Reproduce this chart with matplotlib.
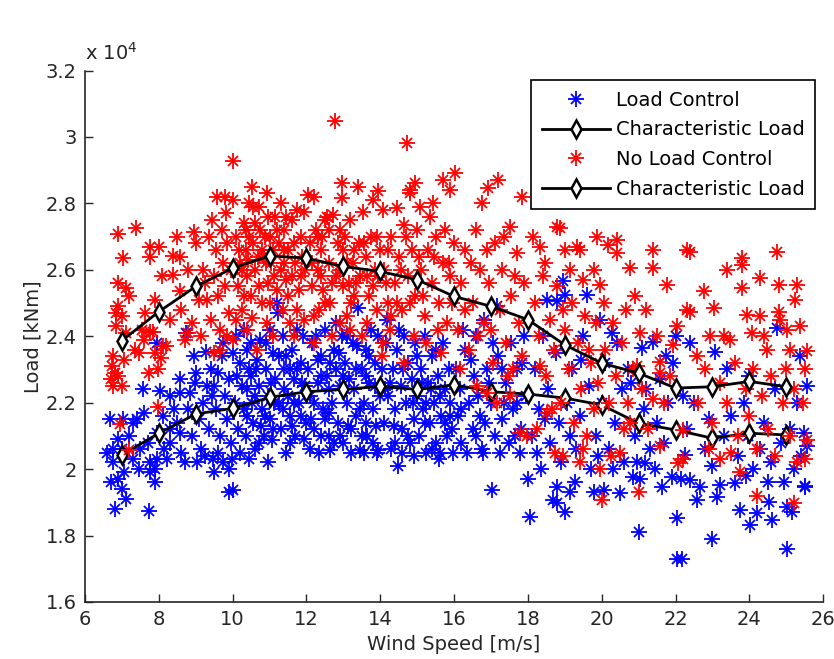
import numpy as np
import matplotlib
matplotlib.use("Agg")
import matplotlib.pyplot as plt
from matplotlib.legend_handler import HandlerTuple

# wind speed [m/s], load [x 1e4 kNm]
lc_points = [
    # 6.5 - 8
    (6.68, 2.15), (7.04, 2.15), (7.4, 2.15), (7.6, 2.17), (6.6, 2.05), (6.77, 2.06), (7.0, 2.06),
    (7.31, 2.03), (6.7, 1.96), (6.9, 1.97), (7.0, 1.94), (6.81, 1.88), (7.1, 1.91), (7.72, 1.875),
    (7.76, 2.02), (7.94, 2.03), (7.76, 1.99), (7.9, 2.0), (7.9, 1.96), (7.94, 2.38), (7.58, 2.24),
    (7.2, 2.1), (7.5, 2.06), (6.9, 2.09), (7.3, 2.14), (6.75, 2.02), (7.05, 1.99), (7.95, 2.11),
    (7.7, 2.08), (7.45, 2.0),
    # 8 - 10
    (8.03, 2.234), (8.21, 2.03), (8.3, 2.22), (8.3, 2.08), (8.57, 2.11), (8.3, 2.12), (8.57, 2.23),
    (8.57, 2.27), (8.71, 2.02), (8.74, 2.41), (8.94, 2.34), (8.97, 2.26), (9.0, 2.29), (9.03, 2.02),
    (9.25, 2.04), (9.27, 2.354), (9.4, 2.30), (9.47, 2.03), (9.6, 2.29), (9.75, 2.02), (9.98, 2.03),
    (10.0, 2.35), (10.0, 1.937), (9.9, 1.93), (9.5, 1.99), (9.9, 2.0), (8.1, 2.16), (8.5, 2.14),
    (8.8, 2.18), (9.1, 2.15), (9.2, 2.2), (9.35, 2.12), (9.5, 2.25), (9.55, 2.18), (9.65, 2.1),
    (9.7, 2.34), (9.8, 2.22), (9.85, 2.15), (9.9, 2.27), (9.95, 2.08), (9.6, 2.05), (9.45, 2.22),
    (8.9, 2.1), (8.6, 2.05), (8.4, 2.18), (9.75, 2.38), (9.3, 2.25), (9.15, 2.06), (8.15, 2.06),
    (8.85, 2.23),
    # 10 - 12
    (10.1, 2.4), (10.2, 2.32), (10.25, 2.25), (10.3, 2.18), (10.35, 2.1), (10.4, 2.36), (10.43, 2.03),
    (10.5, 2.28), (10.52, 2.2), (10.55, 2.14), (10.6, 2.06), (10.65, 2.33), (10.7, 2.25), (10.75, 2.39),
    (10.8, 2.18), (10.85, 2.1), (10.9, 2.3), (10.95, 2.22), (10.97, 2.02), (11.0, 2.15), (11.06, 2.088),
    (11.1, 2.35), (11.15, 2.27), (11.2, 2.5), (11.24, 2.47), (11.25, 2.2), (11.3, 2.12), (11.35, 2.4),
    (11.4, 2.3), (11.45, 2.05), (11.5, 2.22), (11.55, 2.16), (11.6, 2.36), (11.65, 2.27), (11.7, 2.1),
    (11.75, 2.42), (11.8, 2.2), (11.85, 2.32), (11.92, 2.09), (11.95, 2.25), (12.0, 2.14), (10.15, 2.12),
    (10.3, 2.42), (10.45, 2.3), (10.7, 2.08), (10.9, 2.38), (11.05, 2.26), (11.35, 2.18), (11.55, 2.08),
    (11.75, 2.3), (11.9, 2.4), (10.2, 2.05), (10.6, 2.22), (11.1, 2.12), (11.45, 2.34), (11.85, 2.16),
    (10.05, 2.2), (10.4, 2.16), (11.0, 2.42), (11.65, 2.2),
    (10.12, 2.28), (10.38, 2.24), (10.62, 2.3), (10.88, 2.16), (11.12, 2.2), (11.38, 2.24),
    (11.62, 2.13), (11.88, 2.26), (10.5, 2.38), (11.25, 2.34), (10.78, 2.13), (11.55, 2.3),
    # 12 - 14
    (12.05, 2.3), (12.1, 2.22), (12.15, 2.38), (12.2, 2.12), (12.3, 2.26), (12.35, 2.05), (12.4, 2.34),
    (12.45, 2.18), (12.5, 2.42), (12.55, 2.28), (12.6, 2.1), (12.64, 2.058), (12.7, 2.2), (12.75, 2.36),
    (12.8, 2.3), (12.85, 2.14), (12.9, 2.25), (12.95, 2.4), (13.0, 2.08), (13.05, 2.32), (13.1, 2.2),
    (13.15, 2.27), (13.2, 2.12), (13.25, 2.38), (13.3, 2.24), (13.35, 2.16), (13.4, 2.485), (13.45, 2.058),
    (13.5, 2.3), (13.55, 2.2), (13.6, 2.36), (13.65, 2.1), (13.7, 2.26), (13.75, 2.42), (13.8, 2.18),
    (13.85, 2.32), (13.9, 2.05), (13.95, 2.058), (14.0, 2.22), (12.25, 2.4), (12.5, 2.15), (12.65, 2.32),
    (12.9, 2.1), (13.1, 2.4), (13.35, 2.3), (13.6, 2.14), (13.85, 2.25), (12.2, 2.2), (12.4, 2.1),
    (12.8, 2.44), (13.2, 2.05), (13.45, 2.18), (13.7, 2.34), (13.95, 2.4), (12.1, 2.06), (12.6, 2.24),
    (13.0, 2.28), (13.5, 2.1), (13.8, 2.08),
    (12.12, 2.15), (12.38, 2.28), (12.62, 2.17), (12.88, 2.35), (13.12, 2.13), (13.38, 2.37),
    (13.62, 2.28), (13.88, 2.13), (12.3, 2.33), (13.05, 2.24), (13.55, 2.05), (12.75, 2.08),
    # 14 - 16
    (14.05, 2.3), (14.1, 2.14), (14.15, 2.38), (14.17, 2.45), (14.2, 2.22), (14.3, 2.06), (14.35, 2.3),
    (14.4, 2.18), (14.45, 2.36), (14.49, 2.01), (14.55, 2.25), (14.6, 2.12), (14.65, 2.4), (14.7, 2.2),
    (14.75, 2.32), (14.8, 2.08), (14.85, 2.27), (14.9, 2.15), (14.95, 2.38), (15.0, 2.22), (15.05, 2.1),
    (15.1, 2.3), (15.15, 2.18), (15.2, 2.4), (15.25, 2.05), (15.3, 2.26), (15.35, 2.14), (15.4, 2.34),
    (15.45, 2.2), (15.5, 2.08), (15.55, 2.28), (15.6, 2.03), (15.62, 2.05), (15.65, 2.16), (15.7, 2.38),
    (15.75, 2.24), (15.8, 2.1), (15.85, 2.3), (15.9, 2.2), (15.95, 2.12), (15.98, 2.05), (14.25, 2.26),
    (14.5, 2.42), (14.75, 2.1), (15.0, 2.34), (15.25, 2.2), (15.5, 2.36), (15.75, 2.14), (14.4, 2.08),
    (14.9, 2.04), (15.4, 2.06),
    (14.12, 2.24), (14.38, 2.13), (14.62, 2.3), (14.88, 2.2), (15.12, 2.26), (15.38, 2.24),
    (15.62, 2.22), (15.88, 2.16), (14.6, 2.05), (15.2, 2.14),
    # 16 - 18
    (16.05, 2.3), (16.1, 2.16), (16.15, 2.24), (16.2, 2.08), (16.3, 2.36), (16.34, 2.05), (16.4, 2.2),
    (16.5, 2.12), (16.55, 2.28), (16.6, 2.4), (16.7, 2.16), (16.75, 2.06), (16.79, 2.05), (16.8, 2.45),
    (16.9, 2.3), (17.0, 2.2), (17.02, 1.937), (17.1, 2.1), (17.16, 2.49), (17.2, 2.34), (17.25, 2.05),
    (17.3, 2.15), (17.4, 2.26), (17.5, 2.08), (17.55, 2.38), (17.6, 2.18), (17.7, 2.3), (17.79, 2.05),
    (17.8, 2.12), (17.9, 2.4), (17.95, 2.22), (18.01, 1.97), (16.25, 2.42), (16.45, 2.33), (16.65, 2.22),
    (16.85, 2.14), (17.05, 2.38), (17.35, 2.2), (17.65, 2.1), (17.85, 2.32),
    (16.2, 2.18), (16.6, 2.1), (16.95, 2.26), (17.3, 2.3), (17.7, 2.2),
    # 18 - 20
    (18.06, 1.857), (18.1, 2.1), (18.2, 2.3), (18.24, 2.05), (18.3, 2.18), (18.4, 2.4), (18.51, 2.51),
    (18.55, 2.24), (18.6, 2.08), (18.69, 1.907), (18.75, 2.35), (18.78, 2.505), (18.78, 1.947),
    (18.78, 1.897), (18.85, 2.14), (18.96, 2.565), (19.0, 2.525), (19.0, 1.87), (19.05, 2.2),
    (19.14, 1.932), (19.2, 2.3), (19.28, 1.962), (19.3, 2.06), (19.4, 2.16), (19.5, 2.4), (19.6, 2.525),
    (19.65, 2.25), (19.7, 2.0), (19.78, 1.932), (19.85, 2.1), (19.96, 2.45), (20.0, 2.2), (18.35, 2.0),
    (18.9, 2.02), (19.45, 2.33), (19.9, 2.04), (18.45, 2.15), (19.15, 2.1),
    # 20 - 22
    (20.05, 1.937), (20.1, 2.32), (20.2, 2.06), (20.27, 2.41), (20.35, 2.14), (20.41, 2.38), (20.5, 1.927),
    (20.55, 2.24), (20.6, 2.02), (20.7, 2.3), (20.8, 2.26), (20.86, 1.977), (20.9, 2.1), (21.0, 1.81),
    (21.04, 1.97), (21.09, 2.364), (21.15, 2.18), (21.18, 2.018), (21.2, 2.24), (21.3, 2.06), (21.4, 2.384),
    (21.5, 2.14), (21.58, 2.27), (21.63, 1.947), (21.7, 2.08), (21.8, 2.2), (21.9, 1.977), (21.94, 2.32),
    (22.0, 2.4), (22.03, 1.852), (22.03, 1.73), (20.3, 2.0), (20.95, 2.02), (21.45, 2.0), (21.75, 2.34),
    # 22 - 26
    (22.14, 1.97), (22.17, 1.73), (22.2, 2.22), (22.26, 2.043), (22.3, 2.12), (22.4, 2.38), (22.4, 1.967),
    (22.5, 2.2), (22.58, 1.907), (22.67, 1.947), (22.8, 2.06), (22.98, 1.79), (23.0, 2.01), (23.07, 2.354),
    (23.12, 1.917), (23.21, 1.952), (23.3, 2.1), (23.5, 2.16), (23.62, 1.957), (23.7, 2.04), (23.75, 1.877),
    (23.85, 2.2), (23.95, 2.1), (24.02, 1.832), (24.1, 2.0), (24.2, 1.867), (24.3, 2.06), (24.4, 2.14),
    (24.52, 1.902), (24.6, 2.02), (24.61, 1.847), (24.7, 2.24), (24.75, 2.424), (24.85, 2.08), (24.95, 1.96),
    (25.02, 1.887), (25.02, 1.76), (25.1, 2.12), (25.15, 1.872), (25.2, 2.0), (25.3, 2.2), (25.38, 2.34),
    (25.47, 2.11), (25.5, 1.95), (25.51, 1.947), (25.56, 2.07), (25.55, 2.25), (23.4, 2.3), (24.0, 2.28),
    (24.5, 1.96), (23.9, 1.98), (22.9, 2.15), (25.4, 2.04),
]

nlc_points = [
    # 6.5 - 8
    (6.9, 2.707), (7.38, 2.727), (7.02, 2.635), (6.9, 2.56), (7.1, 2.545), (6.9, 2.49), (6.85, 2.47),
    (7.0, 2.46), (7.63, 2.47), (7.9, 2.51), (7.76, 2.67), (7.99, 2.67), (7.75, 2.64), (7.76, 2.414),
    (7.85, 2.414), (7.6, 2.39), (7.36, 2.36), (6.76, 2.34), (6.73, 2.31), (6.81, 2.29), (6.7, 2.27),
    (6.76, 2.25), (7.0, 2.25), (7.73, 2.29), (7.97, 2.30), (7.98, 2.188), (6.95, 2.136), (7.2, 2.058),
    (7.1, 2.41), (6.85, 2.43), (7.05, 2.33), (6.9, 2.28), (7.55, 2.42), (7.45, 2.35), (7.2, 2.52),
    (7.9, 2.35),
    # 8 - 10
    (8.08, 2.58), (8.39, 2.585), (8.39, 2.642), (8.57, 2.64), (8.94, 2.715), (9.0, 2.68), (8.1, 2.37),
    (8.2, 2.37), (8.06, 2.334), (8.71, 2.39), (8.79, 2.41), (8.57, 2.535), (9.1, 2.51), (9.3, 2.51),
    (9.66, 2.36), (10.0, 2.39), (9.57, 2.82), (9.79, 2.82), (10.0, 2.81), (9.82, 2.77), (10.0, 2.929),
    (8.3, 2.45), (8.6, 2.48), (8.8, 2.6), (9.2, 2.6), (9.35, 2.7), (9.4, 2.45), (9.5, 2.58), (9.55, 2.66),
    (9.6, 2.52), (9.7, 2.72), (9.75, 2.62), (9.8, 2.55), (9.85, 2.68), (9.9, 2.47), (9.95, 2.6),
    (9.45, 2.75), (9.65, 2.42), (8.9, 2.44), (9.15, 2.4), (8.5, 2.7), (9.25, 2.56), (9.85, 2.4), (9.5, 2.35),
    # 10 - 12
    (10.1, 2.7), (10.15, 2.55), (10.2, 2.62), (10.25, 2.48), (10.3, 2.74), (10.35, 2.66), (10.4, 2.58),
    (10.45, 2.8), (10.5, 2.52), (10.52, 2.849), (10.52, 2.455), (10.55, 2.68), (10.56, 2.79), (10.6, 2.6),
    (10.65, 2.36), (10.7, 2.79), (10.75, 2.72), (10.8, 2.5), (10.85, 2.64), (10.92, 2.83), (10.92, 2.44),
    (10.95, 2.56), (11.0, 2.7), (11.05, 2.62), (11.1, 2.4), (11.15, 2.76), (11.2, 2.54), (11.25, 2.68),
    (11.3, 2.6), (11.35, 2.48), (11.4, 2.72), (11.45, 2.57), (11.5, 2.66), (11.55, 2.44), (11.65, 2.40),
    (11.6, 2.75), (11.7, 2.62), (11.74, 2.78), (11.8, 2.54), (11.85, 2.7), (11.92, 2.775), (11.92, 2.45),
    (11.95, 2.6), (10.1, 2.45), (10.3, 2.52), (10.6, 2.74), (10.8, 2.66), (11.0, 2.5), (11.3, 2.8),
    (11.5, 2.52), (11.75, 2.48), (10.25, 2.6), (10.45, 2.7), (10.7, 2.55), (10.9, 2.62), (11.1, 2.66),
    (11.4, 2.62), (11.65, 2.68), (11.85, 2.58), (10.4, 2.42), (10.05, 2.6),
    (10.18, 2.66), (10.42, 2.63), (10.68, 2.64), (10.88, 2.7), (11.12, 2.58), (11.38, 2.66),
    (11.62, 2.58), (11.88, 2.64), (10.35, 2.72), (11.2, 2.72), (10.95, 2.76), (11.45, 2.76),
    # 12 - 14
    (12.05, 2.826), (12.19, 2.82), (12.19, 2.38), (12.1, 2.68), (12.15, 2.55), (12.25, 2.72), (12.3, 2.6),
    (12.35, 2.48), (12.4, 2.66), (12.45, 2.54), (12.5, 2.75), (12.55, 2.76), (12.6, 2.62), (12.65, 2.5),
    (12.73, 2.766), (12.78, 3.047), (12.8, 2.58), (12.85, 2.68), (12.91, 2.44), (12.96, 2.86),
    (12.96, 2.816), (13.0, 2.55), (13.05, 2.7), (13.1, 2.62), (13.18, 2.75), (13.18, 2.42), (13.2, 2.5),
    (13.3, 2.66), (13.4, 2.85), (13.45, 2.58), (13.54, 2.775), (13.6, 2.64), (13.63, 2.44), (13.7, 2.52),
    (13.75, 2.7), (13.81, 2.81), (13.85, 2.6), (13.95, 2.836), (13.9, 2.48), (14.0, 2.66), (12.2, 2.46),
    (12.4, 2.58), (12.7, 2.4), (12.9, 2.6), (13.1, 2.46), (13.35, 2.56), (13.55, 2.68), (13.8, 2.55),
    (12.3, 2.7), (12.6, 2.72), (13.0, 2.66), (13.25, 2.62), (13.5, 2.4), (13.95, 2.58),
    (12.15, 2.62), (12.42, 2.7), (12.68, 2.56), (12.92, 2.72), (13.15, 2.56), (13.42, 2.68),
    (13.65, 2.58), (13.9, 2.7), (12.5, 2.5), (13.3, 2.52),
    # 14 - 16
    (14.04, 2.34), (14.08, 2.78), (14.08, 2.38), (14.1, 2.6), (14.2, 2.5), (14.27, 2.42), (14.3, 2.7),
    (14.4, 2.56), (14.45, 2.785), (14.5, 2.64), (14.6, 2.48), (14.63, 2.735), (14.63, 2.32), (14.72, 2.983),
    (14.8, 2.84), (14.81, 2.83), (14.75, 2.58), (14.85, 2.66), (14.94, 2.86), (14.95, 2.52), (15.0, 2.72),
    (15.08, 2.79), (15.1, 2.6), (15.2, 2.46), (15.3, 2.66), (15.4, 2.56), (15.44, 2.80), (15.5, 2.7),
    (15.6, 2.5), (15.71, 2.87), (15.7, 2.62), (15.8, 2.44), (15.89, 2.84), (15.9, 2.58), (16.0, 2.68),
    (14.3, 2.46), (14.55, 2.6), (14.9, 2.4), (15.15, 2.52), (15.35, 2.76), (15.55, 2.42), (15.75, 2.72),
    (15.95, 2.5), (14.2, 2.66), (14.7, 2.7), (15.25, 2.38), (15.65, 2.35),
    (14.15, 2.56), (14.45, 2.5), (14.8, 2.5), (15.05, 2.64), (15.45, 2.64), (15.85, 2.62),
    # 16 - 18
    (16.03, 2.89), (16.1, 2.42), (16.2, 2.56), (16.3, 2.66), (16.4, 2.36), (16.5, 2.5), (16.61, 2.25),
    (16.6, 2.72), (16.7, 2.6), (16.75, 2.80), (16.8, 2.44), (16.89, 2.23), (16.93, 2.846), (16.95, 2.56),
    (17.05, 2.32), (17.1, 2.68), (17.2, 2.87), (17.25, 2.48), (17.3, 2.6), (17.4, 2.38), (17.52, 2.73),
    (17.52, 2.22), (17.55, 2.52), (17.6, 2.3), (17.7, 2.65), (17.75, 2.44), (17.79, 2.11), (17.83, 2.82),
    (17.9, 2.56), (17.97, 2.10), (16.15, 2.3), (16.45, 2.62), (16.65, 2.4), (17.0, 2.42), (17.35, 2.7),
    (17.65, 2.58), (17.85, 2.34), (16.3, 2.48), (16.9, 2.66), (17.15, 2.2), (17.45, 2.28),
    # 18 - 20
    (18.15, 2.70), (18.33, 2.67), (18.33, 2.31), (18.51, 2.17), (18.74, 2.05), (18.78, 2.73), (18.87, 2.725),
    (18.96, 2.04), (19.0, 2.66), (19.32, 2.67), (19.41, 2.66), (19.5, 2.57), (19.5, 2.06), (19.78, 2.60),
    (19.87, 2.70), (19.96, 2.555), (19.96, 2.0), (20.0, 1.907), (18.2, 2.5), (18.3, 2.4), (18.4, 2.58),
    (18.5, 2.28), (18.6, 2.45), (18.7, 2.36), (18.8, 2.55), (18.9, 2.2), (19.0, 2.42), (19.1, 2.3),
    (19.2, 2.5), (19.25, 2.14), (19.35, 2.38), (19.45, 2.24), (19.55, 2.46), (19.6, 2.1), (19.7, 2.32),
    (19.8, 2.18), (19.85, 2.44), (19.9, 2.26), (18.45, 2.62), (18.65, 2.18), (19.15, 2.6), (19.65, 2.36),
    (18.95, 2.48), (19.4, 2.02), (18.25, 2.12),
    # 20 - 22
    (20.05, 2.50), (20.18, 2.675), (20.41, 2.69), (20.41, 2.65), (20.5, 2.05), (20.7, 2.20), (20.77, 2.605),
    (20.77, 2.14), (20.95, 2.31), (21.04, 2.41), (21.0, 1.93), (21.1, 2.24), (21.4, 2.66), (21.4, 2.605),
    (21.4, 2.21), (21.58, 2.324), (21.58, 2.29), (21.58, 2.07), (21.76, 2.555), (21.94, 2.375),
    (22.03, 2.43), (22.08, 2.018), (20.1, 2.36), (20.2, 2.2), (20.3, 2.44), (20.4, 2.28), (20.55, 2.38),
    (20.6, 2.12), (20.65, 2.48), (20.85, 2.3), (21.2, 2.48), (21.25, 2.12), (21.5, 2.4), (21.7, 2.2),
    (21.85, 2.28), (20.25, 2.04), (20.9, 2.52),
    # 22 - 26
    (22.2, 2.118), (22.2, 2.03), (22.3, 2.66), (22.3, 2.48), (22.4, 2.655), (22.4, 2.474), (22.58, 2.34),
    (22.76, 2.535), (22.94, 2.40), (23.03, 2.485), (23.21, 2.03), (23.39, 2.60), (23.48, 2.39),
    (23.75, 1.99), (23.8, 2.635), (23.8, 2.615), (23.8, 2.545), (23.93, 2.465), (24.07, 2.41), (24.2, 1.92),
    (24.29, 2.575), (24.29, 2.46), (24.47, 2.36), (24.75, 2.655), (24.79, 2.555), (24.79, 2.474),
    (24.83, 2.45), (25.02, 2.42), (25.2, 1.897), (25.24, 2.51), (25.29, 2.555), (25.38, 2.43), (25.5, 2.03),
    (25.56, 2.355), (25.56, 2.088), (22.6, 2.2), (22.8, 2.3), (23.0, 2.14), (23.2, 2.26), (23.4, 2.2),
    (23.6, 2.32), (23.7, 2.1), (23.9, 2.24), (24.0, 2.16), (24.1, 2.3), (24.2, 2.06), (24.35, 2.22),
    (24.5, 2.12), (24.6, 2.28), (24.7, 2.04), (24.9, 2.2), (25.0, 2.3), (25.1, 2.1), (25.2, 2.24),
    (25.3, 2.02), (25.45, 2.2), (25.5, 2.3), (23.5, 2.05), (24.4, 2.4), (25.1, 2.36), (22.9, 2.06),
    (23.3, 2.4),
]

char_speed = [7, 8, 9, 10, 11, 12, 13, 14, 15, 16, 17, 18, 19, 20, 21, 22, 23, 24, 25]
char_lc = [2.043, 2.108, 2.166, 2.183, 2.216, 2.233, 2.24, 2.249, 2.24, 2.254, 2.233, 2.226,
           2.214, 2.193, 2.138, 2.118, 2.093, 2.108, 2.103]
char_nlc = [2.387, 2.474, 2.55, 2.605, 2.642, 2.635, 2.61, 2.595, 2.57, 2.52, 2.49, 2.45,
            2.374, 2.319, 2.289, 2.244, 2.248, 2.264, 2.248]

lc = np.array(lc_points)
nlc = np.array(nlc_points)

fs = 14
dark = '#262626'


def asterisk(x, y, color):
    # MATLAB style '*': a long '+' with a shorter 'x' on top
    p, = ax.plot(x, y, linestyle='none', marker='+', ms=11, mew=1.3, color=color)
    q, = ax.plot(x, y, linestyle='none', marker='x', ms=7, mew=1.3, color=color)
    return (p, q)


fig = plt.figure(figsize=(8.34, 6.59), dpi=100)
ax = fig.add_axes([0.102, 0.0865, 0.885, 0.8065])

h_lc = asterisk(lc[:, 0], lc[:, 1], 'blue')
c_lc, = ax.plot(char_speed, char_lc, '-', color='black', lw=2, marker='d', ms=9, mew=1.8,
                mfc='white', mec='black')
h_nlc = asterisk(nlc[:, 0], nlc[:, 1], 'red')
c_nlc, = ax.plot(char_speed, char_nlc, '-', color='black', lw=2, marker='d', ms=9, mew=1.8,
                 mfc='white', mec='black')

ax.set_xlim(6, 26)
ax.set_ylim(1.6, 3.2)
ax.set_xticks(np.arange(6, 27, 2))
ax.set_yticks(np.arange(1.6, 3.21, 0.2))
ax.set_yticklabels(['1.6', '1.8', '2', '2.2', '2.4', '2.6', '2.8', '3', '3.2'])
ax.tick_params(direction='in', length=6, width=1, colors=dark, labelsize=fs, pad=6)
for s in ['top', 'right']:
    ax.spines[s].set_visible(False)
for s in ['left', 'bottom']:
    ax.spines[s].set_color(dark)
    ax.spines[s].set_linewidth(1.2)

ax.set_xlabel('Wind Speed [m/s]', fontsize=fs, color=dark, labelpad=4)
ax.set_ylabel('Load [kNm]', fontsize=fs, color=dark, labelpad=2)
ax.text(0.0, 1.012, r'x 10$^4$', transform=ax.transAxes, fontsize=fs, color=dark,
        ha='left', va='bottom')

leg = ax.legend([h_lc, c_lc, h_nlc, c_nlc],
                ['Load Control', 'Characteristic Load', 'No Load Control', 'Characteristic Load'],
                handler_map={tuple: HandlerTuple(ndivide=1)},
                loc='upper right', bbox_to_anchor=(815 / 834, 1 - 80 / 659),
                bbox_transform=fig.transFigure, fontsize=fs, numpoints=1,
                fancybox=False, framealpha=1, edgecolor='black', borderaxespad=0,
                handlelength=3.5, handletextpad=0.3, labelspacing=0.55, borderpad=0.55)
leg.get_frame().set_linewidth(1.2)

fig.savefig('out.png', dpi=100)
